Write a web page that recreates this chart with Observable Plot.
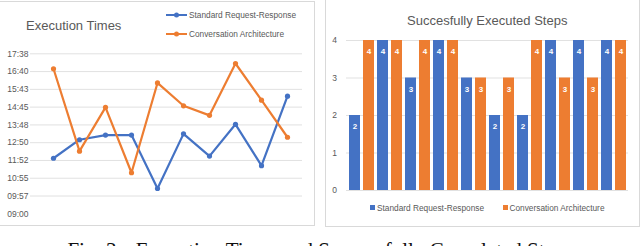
<!DOCTYPE html>
<html>
<head>
<meta charset="utf-8">
<script src="https://cdn.jsdelivr.net/npm/d3@7"></script>
<script src="https://cdn.jsdelivr.net/npm/@observablehq/plot@0.6"></script>
<style>
  html, body { margin: 0; padding: 0; background: #fff; }
  #wrap { position: relative; width: 640px; height: 246px; overflow: hidden; background: #fff;
          font-family: "Liberation Sans", Arial, sans-serif; color: #595959; }
  .panel { position: absolute; box-sizing: border-box; border: 1px solid #d9d9d9; }
  .abs { position: absolute; white-space: nowrap; }
  .title { font-size: 13px; color: #595959; line-height: 13px; }
  .leg { font-size: 8.3px; line-height: 8px; display: flex; align-items: center; color: #595959; }
  .sq { display: inline-block; width: 5px; height: 5px; margin-right: 2px; }
  #caption { position: absolute; left: 0; width: 640px; top: 239.5px; text-align: center;
             font-family: "Liberation Serif", "Times New Roman", serif; font-size: 21px; line-height: 21px; color: #111; white-space: nowrap; }
</style>
</head>
<body>
<div id="wrap">
  <div class="panel" style="left:-1px;top:1px;width:316px;height:225px"></div>
  <div class="panel" style="left:325px;top:-2px;width:315px;height:229px"></div>
  <div id="leftChart" class="abs" style="left:0;top:0"></div>
  <div id="rightChart" class="abs" style="left:325px;top:0"></div>

  <div class="abs title" style="left:26px;top:19px">Execution Times</div>
  <div class="abs leg" style="left:166px;top:11px">
    <svg width="22" height="8"><line x1="0" x2="21" y1="4" y2="4" stroke="#4472C4" stroke-width="2"/><circle cx="10.5" cy="4" r="2.5" fill="#4472C4"/></svg>
    <span style="margin-left:1px">Standard Request-Response</span>
  </div>
  <div class="abs leg" style="left:166px;top:29.5px">
    <svg width="22" height="8"><line x1="0" x2="21" y1="4" y2="4" stroke="#ED7D31" stroke-width="2"/><circle cx="10.5" cy="4" r="2.5" fill="#ED7D31"/></svg>
    <span style="margin-left:1px">Conversation Architecture</span>
  </div>

  <div class="abs title" style="left:407px;top:14px">Succesfully Executed Steps</div>
  <div class="abs leg" style="left:370px;top:203.5px"><span class="sq" style="background:#4472C4"></span>Standard Request-Response</div>
  <div class="abs leg" style="left:502.5px;top:203.5px"><span class="sq" style="background:#ED7D31"></span>Conversation Architecture</div>

  <div id="caption">Fig. 3.<span style="display:inline-block;width:14px"></span>Execution Times and Successfully Completed Steps</div>
</div>
<script>
// ---- data ----
const seriesNames = ["Standard Request-Response", "Conversation Architecture"];
const seriesColors = ["#4472C4", "#ED7D31"];
const runs = [1, 2, 3, 4, 5, 6, 7, 8, 9, 10];
const standardTimes = ["12:00", "13:00", "13:15", "13:15", "10:22", "13:19", "12:07", "13:50", "11:36", "15:21"];
const conversationTimes = ["16:50", "12:23", "14:45", "11:13", "16:04", "14:50", "14:19", "17:07", "15:08", "13:08"];
const timeTickMinutes = [540, 597.6, 655.2, 712.8, 770.4, 828, 885.6, 943.2, 1000.8, 1058.4];
const timeTickLabels = ["09:00", "09:57", "10:55", "11:52", "12:50", "13:48", "14:45", "15:43", "16:40", "17:38"];
const standardSteps = [2, 4, 3, 4, 3, 2, 2, 4, 4, 4];
const conversationSteps = [4, 4, 4, 4, 3, 3, 4, 3, 3, 4];
const stepTicks = [0, 1, 2, 3, 4];

const toMin = s => { const [h, m] = s.split(":").map(Number); return h * 60 + m; };

const lineData = [];
runs.forEach((r, i) => {
  lineData.push({run: r, series: seriesNames[0], minutes: toMin(standardTimes[i])});
});
runs.forEach((r, i) => {
  lineData.push({run: r, series: seriesNames[1], minutes: toMin(conversationTimes[i])});
});

const left = Plot.plot({
  width: 315, height: 226,
  marginLeft: 30, marginRight: 13, marginTop: 53.3, marginBottom: 12.7,
  style: {fontFamily: "'Liberation Sans', Arial, sans-serif", fontSize: "8.5px", color: "#595959", background: "transparent"},
  x: {type: "point", domain: runs, padding: 0.67, align: 0.615, axis: null},
  y: {domain: [540, 1058.4], axis: null},
  color: {domain: seriesNames, range: seriesColors},
  marks: [
    Plot.ruleY(timeTickMinutes.slice(1), {stroke: "#d9d9d9", strokeWidth: 0.8}),
    Plot.axisY({ticks: timeTickMinutes, tickFormat: d => timeTickLabels[timeTickMinutes.indexOf(d)], tickSize: 0, tickPadding: 2, label: null, fill: "#595959"}),
    Plot.line(lineData.filter(d => d.series === seriesNames[0]), {x: "run", y: "minutes", stroke: "series", strokeWidth: 2.2}),
    Plot.dot(lineData.filter(d => d.series === seriesNames[0]), {x: "run", y: "minutes", fill: "series", r: 2.6}),
    Plot.line(lineData.filter(d => d.series === seriesNames[1]), {x: "run", y: "minutes", stroke: "series", strokeWidth: 2.2}),
    Plot.dot(lineData.filter(d => d.series === seriesNames[1]), {x: "run", y: "minutes", fill: "series", r: 2.6})
  ]
});
document.getElementById("leftChart").appendChild(left);

const bars = [];
runs.forEach((r, i) => {
  bars.push({key: r + "-a", series: seriesNames[0], value: standardSteps[i]});
  bars.push({key: r + "-b", series: seriesNames[1], value: conversationSteps[i]});
});

const right = Plot.plot({
  width: 314, height: 226,
  marginLeft: 21, marginRight: 11, marginTop: 40, marginBottom: 36,
  style: {fontFamily: "'Liberation Sans', Arial, sans-serif", fontSize: "8.5px", color: "#595959", background: "transparent"},
  x: {type: "band", domain: bars.map(d => d.key), paddingInner: 0.22, paddingOuter: 0.11, axis: null},
  y: {domain: [0, 4], axis: null},
  color: {domain: seriesNames, range: seriesColors},
  marks: [
    Plot.ruleY(stepTicks, {stroke: "#d9d9d9", strokeWidth: 0.8}),
    Plot.axisY({ticks: stepTicks, tickFormat: d => String(d), tickSize: 0, tickPadding: 9.5, label: null, fill: "#595959"}),
    Plot.barY(bars, {x: "key", y: "value", fill: "series"}),
    Plot.text(bars, {x: "key", y: "value", text: d => String(d.value), dy: 11, fill: "white", fontWeight: "bold", fontSize: 8})
  ]
});
document.getElementById("rightChart").appendChild(right);
</script>
</body>
</html>
